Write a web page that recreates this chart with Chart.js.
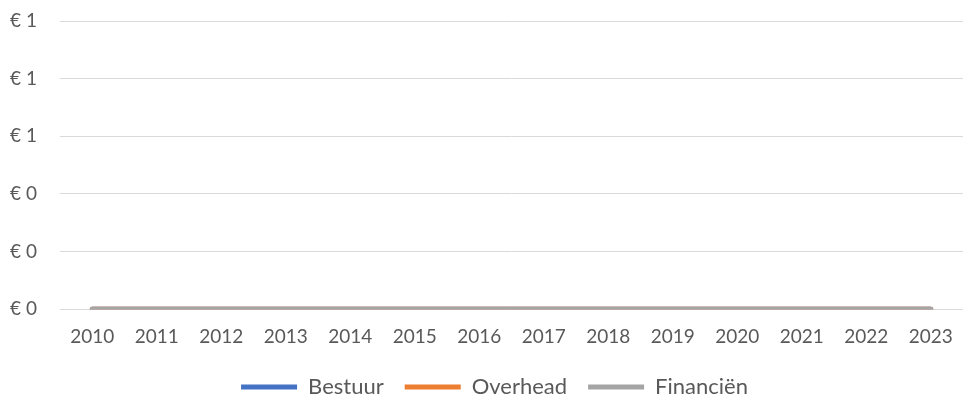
<!DOCTYPE html>
<html>
<head>
<meta charset="utf-8">
<script src="https://cdn.jsdelivr.net/npm/chart.js@4/dist/chart.umd.min.js"></script>
<style>
  html, body { margin:0; padding:0; background:#fff; }
  #wrap { width:968px; height:406px; }
</style>
</head>
<body>
<div id="wrap"><canvas id="chart"></canvas></div>
<script>
// --- DATA ---
const years = ['2010','2011','2012','2013','2014','2015','2016','2017','2018','2019','2020','2021','2022','2023'];
const bestuur   = [0,0,0,0,0,0,0,0,0,0,0,0,0,0];
const overhead  = [0,0,0,0,0,0,0,0,0,0,0,0,0,0];
const financien = [0,0,0,0,0,0,0,0,0,0,0,0,0,0];
const yTicks = [0, 0.2, 0.4, 0.6, 0.8, 1];

const FONT = 'Lato';
const TEXT = '#595959';

// lower order = drawn on top, so Financiën ends up above the others like in Excel
function line(label, data, color, order){
  return {label, data, order, borderColor:color, backgroundColor:color, borderWidth:5,
    borderCapStyle:'round', pointRadius:0, pointHoverRadius:0, tension:0};
}

// nudge the legend a bit right and down, Excel centres it slightly off
const legendShift = {
  id:'legendShift',
  afterLayout(chart){
    const lg = chart.legend;
    if(!lg) return;
    lg.left += 26;
    lg.top += 2; lg.bottom += 2;
  }
};

const ctx = document.getElementById('chart').getContext('2d');
new Chart(ctx, {
  type:'line',
  data:{
    labels:years,
    datasets:[
      line('Bestuur', bestuur, '#4472C4', 2),
      line('Overhead', overhead, '#ED7D31', 1),
      line('Financiën', financien, '#A5A5A5', 0)
    ]
  },
  options:{
    responsive:true, maintainAspectRatio:false, animation:false,
    layout:{padding:{top:21, right:5, left:0, bottom:0}},
    scales:{
      x:{
        offset:true,
        afterFit(scale){ scale.height -= 3; },
        grid:{display:false},
        border:{display:false},
        ticks:{color:TEXT, font:{family:FONT, size:19}, padding:8, maxRotation:0}
      },
      y:{
        min:0, max:1,
        afterBuildTicks(scale){ scale.ticks = yTicks.map(v=>({value:v})); },
        afterFit(scale){ scale.width = 60; scale.paddingTop = 0; scale.paddingBottom = 0; },
        grid:{color:'#d9d9d9', lineWidth:1, drawTicks:false},
        border:{display:false},
        ticks:{color:TEXT, font:{family:FONT, size:19}, padding:23,
          callback:(v)=>'€ ' + Math.round(v)}
      }
    },
    plugins:{
      tooltip:{enabled:false},
      legend:{
        position:'bottom',
        labels:{
          color:TEXT, font:{family:FONT, size:22}, boxWidth:56, boxHeight:5, padding:21,
          generateLabels(chart){
            return chart.data.datasets.map((d,i)=>({
              text:d.label, fillStyle:d.borderColor, strokeStyle:d.borderColor,
              lineWidth:0, hidden:false, datasetIndex:i, fontColor:TEXT
            }));
          }
        }
      }
    }
  },
  plugins:[legendShift]
});
</script>
</body>
</html>
